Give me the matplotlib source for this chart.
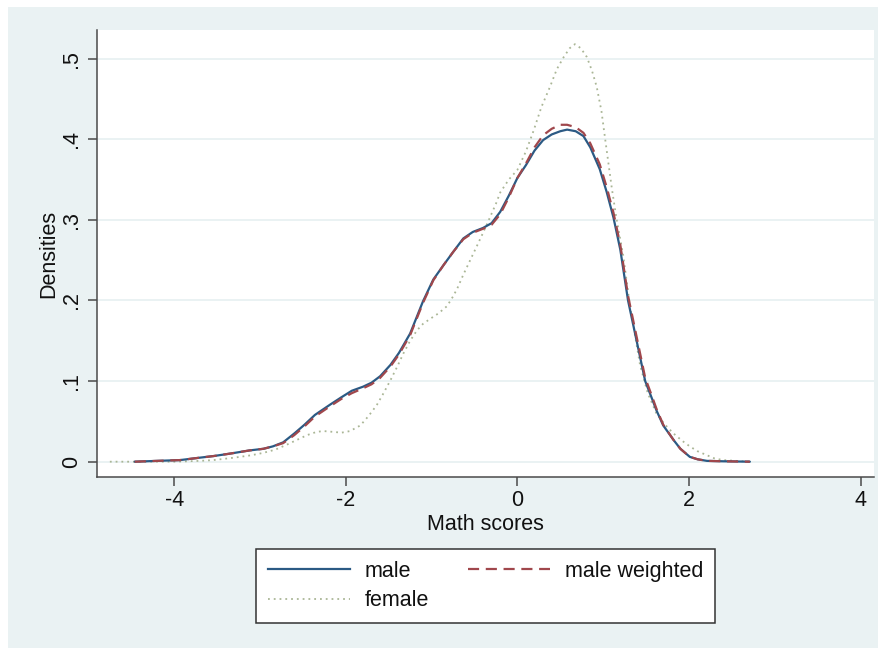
import matplotlib
matplotlib.use("Agg")
import matplotlib.pyplot as plt
from matplotlib.patches import Rectangle
from matplotlib.lines import Line2D

plt.rcParams['font.family'] = ['Liberation Sans', 'DejaVu Sans']

# ---- data ----
male_x = [-4.46, -4.20, -3.93, -3.70, -3.54, -3.35, -3.12, -2.96, -2.85, -2.73,
          -2.60, -2.48, -2.36, -2.18, -2.05, -1.93, -1.80, -1.70, -1.60, -1.48,
          -1.38, -1.25, -1.10, -0.98, -0.86, -0.75, -0.63, -0.52, -0.40, -0.30,
          -0.20, -0.10, 0.00, 0.10, 0.20, 0.30, 0.40, 0.50, 0.58, 0.68,
          0.77, 0.85, 0.96, 1.04, 1.12, 1.20, 1.29, 1.39, 1.49, 1.57,
          1.62, 1.70, 1.82, 1.90, 2.01, 2.10, 2.21, 2.40, 2.71]
male_y = [0.000, 0.001, 0.002, 0.005, 0.007, 0.010, 0.014, 0.016, 0.019, 0.024,
          0.035, 0.046, 0.058, 0.071, 0.080, 0.088, 0.093, 0.098, 0.106, 0.120,
          0.135, 0.159, 0.199, 0.226, 0.244, 0.260, 0.277, 0.285, 0.290, 0.296,
          0.310, 0.330, 0.352, 0.368, 0.386, 0.399, 0.406, 0.410, 0.412, 0.410,
          0.404, 0.390, 0.363, 0.335, 0.303, 0.263, 0.200, 0.150, 0.100, 0.078,
          0.064, 0.045, 0.027, 0.016, 0.006, 0.003, 0.001, 0.0005, 0.000]

male_w_x = [-4.46, -4.20, -3.93, -3.70, -3.54, -3.35, -3.12, -2.96, -2.85, -2.73,
            -2.60, -2.48, -2.36, -2.18, -2.05, -1.93, -1.80, -1.70, -1.60, -1.48,
            -1.38, -1.25, -1.10, -0.98, -0.86, -0.75, -0.63, -0.52, -0.40, -0.30,
            -0.20, -0.10, 0.00, 0.10, 0.20, 0.30, 0.40, 0.50, 0.58, 0.68,
            0.77, 0.85, 0.96, 1.04, 1.12, 1.20, 1.29, 1.39, 1.49, 1.57,
            1.62, 1.70, 1.82, 1.90, 2.01, 2.10, 2.21, 2.40, 2.71]
male_w_y = [0.000, 0.001, 0.002, 0.005, 0.007, 0.010, 0.014, 0.016, 0.019, 0.023,
            0.033, 0.044, 0.056, 0.069, 0.078, 0.085, 0.091, 0.096, 0.104, 0.118,
            0.133, 0.157, 0.197, 0.225, 0.244, 0.260, 0.276, 0.284, 0.289, 0.294,
            0.307, 0.328, 0.352, 0.370, 0.390, 0.405, 0.413, 0.418, 0.418, 0.415,
            0.408, 0.395, 0.369, 0.341, 0.309, 0.269, 0.206, 0.155, 0.104, 0.081,
            0.066, 0.046, 0.027, 0.016, 0.006, 0.003, 0.001, 0.0005, 0.000]

female_x = [-4.75, -4.40, -4.00, -3.70, -3.54, -3.30, -3.10, -2.96, -2.82, -2.69,
            -2.55, -2.45, -2.34, -2.26, -2.15, -2.05, -1.95, -1.83, -1.74, -1.64,
            -1.56, -1.48, -1.40, -1.33, -1.25, -1.17, -1.10, -1.02, -0.92, -0.82,
            -0.75, -0.70, -0.63, -0.55, -0.47, -0.40, -0.32, -0.25, -0.20, -0.10,
            0.00, 0.10, 0.19, 0.28, 0.38, 0.46, 0.54, 0.61, 0.67, 0.74,
            0.81, 0.87, 0.925, 0.98, 1.03, 1.10, 1.15, 1.235, 1.31, 1.43, 1.52,
            1.62, 1.72, 1.82, 1.92, 2.01, 2.10, 2.21, 2.30, 2.40, 2.55, 2.70]
female_y = [0.000, 0.000, 0.000, 0.001, 0.002, 0.005, 0.008, 0.011, 0.015, 0.021,
            0.028, 0.033, 0.037, 0.038, 0.037, 0.036, 0.038, 0.045, 0.056, 0.070,
            0.085, 0.101, 0.118, 0.134, 0.150, 0.163, 0.171, 0.177, 0.184, 0.193,
            0.205, 0.215, 0.232, 0.250, 0.268, 0.284, 0.303, 0.320, 0.334, 0.350,
            0.362, 0.385, 0.411, 0.440, 0.465, 0.487, 0.502, 0.513, 0.518, 0.513,
            0.502, 0.485, 0.465, 0.435, 0.395, 0.340, 0.305, 0.255, 0.195, 0.120, 0.085,
            0.060, 0.046, 0.035, 0.026, 0.019, 0.013, 0.008, 0.004, 0.002, 0.001, 0.000]

x_ticks = [-4, -2, 0, 2, 4]
x_ticklabels = ["-4", "-2", "0", "2", "4"]
y_ticks = [0, 0.1, 0.2, 0.3, 0.4, 0.5]
y_ticklabels = ["0", ".1", ".2", ".3", ".4", ".5"]
series_labels = ["male", "male weighted", "female"]

# ---- styling ----
BG = '#EAF2F3'
C_MALE = '#2B5A84'
C_W = '#A0474C'
C_F = '#AAB696'
AXC = '#4A4A4A'
FS = 15.5

fig = plt.figure(figsize=(8.85, 6.48), dpi=100, facecolor='white')
fig.patches.append(Rectangle((8 / 885, 0), 870 / 885, 641 / 648,
                             transform=fig.transFigure, facecolor=BG,
                             edgecolor='none', zorder=-10))

ax = fig.add_axes([97 / 885, 1 - 477 / 648, 777 / 885, 447 / 648])
ax.set_facecolor('white')

ax.plot(male_x, male_y, color=C_MALE, lw=1.6, solid_capstyle='round',
        solid_joinstyle='round', zorder=3)
ax.plot(male_w_x, male_w_y, color=C_W, lw=1.6, dashes=(5, 3), zorder=4)
ax.plot(female_x, female_y, color=C_F, lw=1.3, linestyle=(0, (1, 2.2)), zorder=2)

ax.set_xlim(-4.90, 4.157)
ax.set_ylim(-0.019, 0.5356)

ax.set_xticks(x_ticks)
ax.set_xticklabels(x_ticklabels)
ax.set_yticks(y_ticks)
ax.set_yticklabels(y_ticklabels, rotation=90, va='center')

ax.grid(axis='y', color=BG, lw=1.4, zorder=0)
ax.set_axisbelow(True)

for s in ['top', 'right']:
    ax.spines[s].set_visible(False)
for s in ['left', 'bottom']:
    ax.spines[s].set_color(AXC)
    ax.spines[s].set_linewidth(1.1)

ax.tick_params(axis='both', direction='out', length=6.5, width=1.1,
               color=AXC, labelsize=FS, labelcolor='#111111')
ax.tick_params(axis='y', pad=4)
ax.tick_params(axis='x', pad=3)

ax.set_xlabel("Math scores", fontsize=FS, color='#111111')
ax.set_ylabel("Densities", fontsize=FS, color='#111111')
ax.xaxis.set_label_coords(0.5, -0.083)
ax.yaxis.set_label_coords(-0.049, 0.5)

h_male = Line2D([], [], color=C_MALE, lw=1.6)
h_w = Line2D([], [], color=C_W, lw=1.6, dashes=(5, 3))
h_f = Line2D([], [], color=C_F, lw=1.3, linestyle=(0, (1, 2.2)))
leg = fig.legend([h_male, h_f, h_w],
                 [series_labels[0], series_labels[2], series_labels[1]],
                 ncol=2, loc='center', bbox_to_anchor=(485.5 / 885, 1 - 586 / 648),
                 fontsize=FS, frameon=True, fancybox=False, framealpha=1,
                 handlelength=3.8, handletextpad=0.7, columnspacing=1.8,
                 borderpad=0.55, labelspacing=0.38, borderaxespad=0)
leg.get_frame().set_edgecolor('#333333')
leg.get_frame().set_linewidth(1.1)
leg.get_frame().set_facecolor('white')
for t in leg.get_texts():
    t.set_color('#111111')

fig.savefig('out.png', dpi=100, facecolor=fig.get_facecolor())
